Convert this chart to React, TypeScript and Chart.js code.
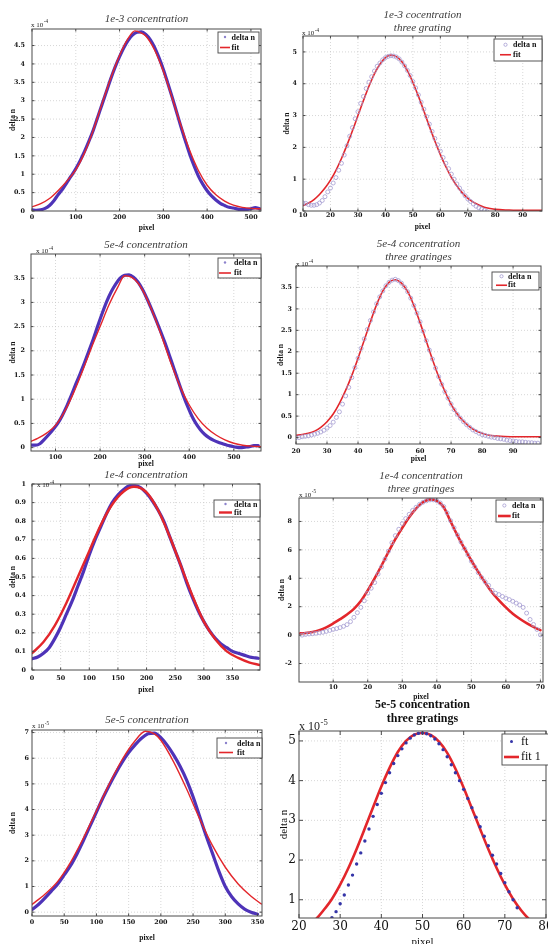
import React, { useEffect, useRef } from "react";
import { Chart, registerables } from "chart.js";
Chart.register(...registerables);

const SERIF = "'Liberation Serif', 'Times New Roman', serif";
const DJ = "'DejaVu Serif', serif";

// ---------------- DATA ----------------
// Panel 1: 1e-3 concentration (values x 1e-4)
const P1_XTICKS = [0, 100, 200, 300, 400, 500];
const P1_YTICKS = [0, 0.5, 1, 1.5, 2, 2.5, 3, 3.5, 4, 4.5];
const P1_DELTA_X = [0, 10, 20, 30, 40, 50, 60, 70, 80, 90, 100, 110, 120, 130, 140, 150, 160, 170, 180, 190, 200, 210, 220, 230, 240, 250, 260, 270, 280, 290, 300, 310, 320, 330, 340, 350, 360, 370, 380, 390, 400, 410, 420, 430, 440, 450, 460, 470, 480, 490, 500, 510, 520];
const P1_DELTA = [0.03, 0.02, 0.03, 0.07, 0.15, 0.28, 0.45, 0.6, 0.78, 0.96, 1.15, 1.37, 1.62, 1.9, 2.2, 2.55, 2.9, 3.25, 3.6, 3.92, 4.2, 4.45, 4.65, 4.79, 4.86, 4.87, 4.8, 4.66, 4.45, 4.17, 3.85, 3.48, 3.1, 2.7, 2.3, 1.92, 1.55, 1.23, 0.95, 0.73, 0.55, 0.41, 0.3, 0.21, 0.15, 0.1, 0.08, 0.05, 0.04, 0.04, 0.06, 0.09, 0.06];
const P1_FIT_X = [0, 20, 40, 60, 80, 100, 120, 140, 160, 180, 200, 220, 235, 250, 260, 280, 300, 320, 340, 360, 380, 400, 420, 440, 460, 480, 500, 522];
const P1_FIT = [0.11, 0.2, 0.34, 0.56, 0.82, 1.12, 1.58, 2.2, 2.92, 3.62, 4.23, 4.7, 4.9, 4.84, 4.76, 4.38, 3.8, 3.08, 2.33, 1.65, 1.1, 0.7, 0.44, 0.27, 0.16, 0.1, 0.07, 0.06];

// Panel 2: 1e-3 cocentration, three grating (x 1e-4)
const P2_XTICKS = [10, 20, 30, 40, 50, 60, 70, 80, 90];
const P2_YTICKS = [0, 1, 2, 3, 4, 5];
const P2_DELTA_X = [10, 11, 12, 13, 14, 15, 16, 17, 18, 19, 20, 21, 22, 23, 24, 25, 26, 27, 28, 29, 30, 31, 32, 33, 34, 35, 36, 37, 38, 39, 40, 41, 42, 43, 44, 45, 46, 47, 48, 49, 50, 51, 52, 53, 54, 55, 56, 57, 58, 59, 60, 61, 62, 63, 64, 65, 66, 67, 68, 69, 70, 71, 72, 73, 74, 75, 76, 77];
const P2_DELTA = [0.25, 0.24, 0.2, 0.18, 0.18, 0.2, 0.25, 0.33, 0.45, 0.6, 0.72, 0.88, 1.05, 1.28, 1.5, 1.76, 2.05, 2.35, 2.62, 2.9, 3.12, 3.38, 3.6, 3.85, 4.05, 4.22, 4.4, 4.55, 4.65, 4.75, 4.82, 4.86, 4.88, 4.87, 4.84, 4.78, 4.68, 4.56, 4.42, 4.26, 4.07, 3.87, 3.65, 3.42, 3.2, 2.97, 2.73, 2.5, 2.28, 2.08, 1.88, 1.68, 1.5, 1.33, 1.16, 1.0, 0.85, 0.72, 0.6, 0.48, 0.38, 0.3, 0.22, 0.15, 0.1, 0.06, 0.02, -0.02];
const P2_FIT_X = [10, 12, 14, 16, 18, 20, 22, 24, 26, 28, 30, 32, 34, 36, 38, 40, 42, 44, 46, 48, 50, 52, 54, 56, 58, 60, 62, 64, 66, 68, 70, 72, 74, 76, 78, 80, 85, 90, 97];
const P2_FIT = [0.17, 0.25, 0.36, 0.52, 0.72, 0.97, 1.28, 1.65, 2.07, 2.52, 3.0, 3.47, 3.92, 4.31, 4.61, 4.82, 4.9, 4.85, 4.69, 4.41, 4.04, 3.61, 3.14, 2.66, 2.2, 1.77, 1.39, 1.06, 0.79, 0.57, 0.4, 0.28, 0.19, 0.12, 0.08, 0.05, 0.03, 0.02, 0.02];

// Panel 3: 5e-4 concentration (x 1e-4)
const P3_XTICKS = [100, 200, 300, 400, 500];
const P3_YTICKS = [0, 0.5, 1, 1.5, 2, 2.5, 3, 3.5];
const P3_DELTA_X = [45, 55, 65, 75, 85, 95, 105, 115, 125, 135, 145, 155, 165, 175, 185, 195, 205, 215, 225, 235, 245, 255, 265, 275, 285, 295, 305, 315, 325, 335, 345, 355, 365, 375, 385, 395, 405, 415, 425, 435, 445, 455, 465, 475, 485, 495, 505, 515, 525, 535, 545, 555];
const P3_DELTA = [0.05, 0.05, 0.08, 0.17, 0.27, 0.38, 0.5, 0.66, 0.85, 1.07, 1.3, 1.52, 1.75, 2.0, 2.25, 2.52, 2.78, 3.02, 3.22, 3.38, 3.5, 3.56, 3.57, 3.52, 3.42, 3.27, 3.08, 2.87, 2.65, 2.42, 2.18, 1.92, 1.65, 1.38, 1.12, 0.88, 0.67, 0.5, 0.37, 0.27, 0.2, 0.15, 0.11, 0.08, 0.05, 0.03, 0.01, 0.0, 0.01, 0.02, 0.04, 0.04];
const P3_FIT_X = [45, 60, 80, 100, 120, 140, 160, 180, 200, 220, 240, 255, 270, 285, 300, 320, 340, 360, 380, 400, 420, 440, 460, 480, 500, 520, 540, 560];
const P3_FIT = [0.13, 0.19, 0.3, 0.46, 0.74, 1.12, 1.57, 2.05, 2.5, 2.95, 3.32, 3.55, 3.52, 3.4, 3.17, 2.75, 2.25, 1.72, 1.25, 0.88, 0.6, 0.4, 0.26, 0.16, 0.09, 0.05, 0.03, 0.02];

// Panel 4: 5e-4 concentration, three gratinges (x 1e-4)
const P4_XTICKS = [20, 30, 40, 50, 60, 70, 80, 90];
const P4_YTICKS = [0, 0.5, 1, 1.5, 2, 2.5, 3, 3.5];
const P4_DELTA_X = [20, 21, 22, 23, 24, 25, 26, 27, 28, 29, 30, 31, 32, 33, 34, 35, 36, 37, 38, 39, 40, 41, 42, 43, 44, 45, 46, 47, 48, 49, 50, 51, 52, 53, 54, 55, 56, 57, 58, 59, 60, 61, 62, 63, 64, 65, 66, 67, 68, 69, 70, 71, 72, 73, 74, 75, 76, 77, 78, 79, 80, 81, 82, 83, 84, 85, 86, 87, 88, 89, 90, 91, 92, 93, 94, 95, 96, 97, 98];
const P4_DELTA = [0.0, 0.0, 0.02, 0.03, 0.04, 0.06, 0.08, 0.1, 0.13, 0.17, 0.22, 0.28, 0.36, 0.47, 0.6, 0.78, 0.97, 1.17, 1.4, 1.63, 1.85, 2.08, 2.3, 2.52, 2.73, 2.93, 3.12, 3.28, 3.42, 3.54, 3.62, 3.67, 3.69, 3.66, 3.6, 3.51, 3.4, 3.25, 3.08, 2.9, 2.7, 2.48, 2.26, 2.04, 1.83, 1.62, 1.42, 1.24, 1.07, 0.92, 0.78, 0.65, 0.54, 0.45, 0.37, 0.3, 0.24, 0.18, 0.14, 0.1, 0.07, 0.05, 0.03, 0.01, 0.0, -0.02, -0.03, -0.04, -0.06, -0.07, -0.08, -0.09, -0.1, -0.1, -0.11, -0.12, -0.12, -0.13, -0.13];
const P4_FIT_X = [20, 22, 24, 26, 28, 30, 32, 34, 36, 38, 40, 42, 44, 46, 48, 50, 52, 54, 56, 58, 60, 62, 64, 66, 68, 70, 72, 74, 76, 78, 80, 82, 84, 86, 90, 95, 99];
const P4_FIT = [0.05, 0.07, 0.1, 0.15, 0.24, 0.37, 0.55, 0.8, 1.1, 1.45, 1.85, 2.27, 2.7, 3.1, 3.42, 3.62, 3.68, 3.6, 3.4, 3.08, 2.68, 2.25, 1.82, 1.42, 1.08, 0.78, 0.55, 0.38, 0.25, 0.16, 0.1, 0.06, 0.04, 0.03, 0.02, 0.02, 0.02];

// Panel 5: 1e-4 concentration (x 1e-4)
const P5_XTICKS = [0, 50, 100, 150, 200, 250, 300, 350];
const P5_YTICKS = [0, 0.1, 0.2, 0.3, 0.4, 0.5, 0.6, 0.7, 0.8, 0.9, 1];
const P5_DELTA_X = [0, 10, 20, 30, 40, 50, 60, 70, 80, 90, 100, 110, 120, 130, 140, 150, 160, 170, 180, 190, 200, 210, 220, 230, 240, 250, 260, 270, 280, 290, 300, 310, 320, 330, 340, 350, 360, 370, 380, 390, 395];
const P5_DELTA = [0.06, 0.07, 0.09, 0.12, 0.17, 0.23, 0.3, 0.37, 0.45, 0.53, 0.62, 0.7, 0.77, 0.84, 0.9, 0.94, 0.97, 0.99, 0.99, 0.98, 0.95, 0.91, 0.86, 0.8, 0.72, 0.64, 0.56, 0.47, 0.39, 0.32, 0.26, 0.21, 0.17, 0.14, 0.12, 0.1, 0.09, 0.08, 0.07, 0.065, 0.063];
const P5_FIT_X = [0, 20, 40, 60, 80, 100, 120, 140, 160, 178, 200, 220, 240, 260, 280, 300, 320, 340, 360, 380, 398];
const P5_FIT = [0.09, 0.15, 0.24, 0.36, 0.5, 0.64, 0.78, 0.89, 0.96, 0.985, 0.955, 0.86, 0.72, 0.56, 0.4, 0.26, 0.165, 0.1, 0.065, 0.04, 0.027];

// Panel 6: 1e-4 concentration, three gratinges (x 1e-5)
const P6_XTICKS = [10, 20, 30, 40, 50, 60, 70];
const P6_YTICKS = [-2, 0, 2, 4, 6, 8];
const P6_DELTA_X = [1, 2, 3, 4, 5, 6, 7, 8, 9, 10, 11, 12, 13, 14, 15, 16, 17, 18, 19, 20, 21, 22, 23, 24, 25, 26, 27, 28, 29, 30, 31, 32, 33, 34, 35, 36, 37, 38, 39, 40, 41, 42, 43, 44, 45, 46, 47, 48, 49, 50, 51, 52, 53, 54, 55, 56, 57, 58, 59, 60, 61, 62, 63, 64, 65, 66, 67, 68, 69, 70];
const P6_DELTA = [0.0, 0.05, 0.08, 0.1, 0.13, 0.17, 0.2, 0.26, 0.33, 0.4, 0.46, 0.53, 0.62, 0.74, 0.95, 1.25, 1.58, 1.95, 2.42, 2.95, 3.3, 3.7, 4.3, 4.8, 5.35, 5.9, 6.5, 7.0, 7.45, 7.85, 8.2, 8.5, 8.78, 9.0, 9.2, 9.35, 9.45, 9.52, 9.52, 9.45, 9.3, 9.05, 8.6, 8.05, 7.55, 7.05, 6.55, 6.1, 5.65, 5.2, 4.8, 4.4, 4.05, 3.75, 3.5, 3.15, 2.95, 2.85, 2.72, 2.6, 2.5, 2.38, 2.25, 2.12, 1.95, 1.55, 1.1, 0.75, 0.4, 0.02];
const P6_FIT_X = [0.5, 2, 4, 6, 8, 10, 12, 14, 16, 18, 20, 22, 24, 26, 28, 30, 32, 34, 36, 38, 40, 42, 44, 46, 48, 50, 52, 54, 56, 58, 60, 62, 64, 66, 68, 70];
const P6_FIT = [0.12, 0.15, 0.22, 0.35, 0.55, 0.82, 1.12, 1.45, 1.85, 2.4, 3.15, 4.0, 4.9, 5.85, 6.75, 7.55, 8.3, 8.9, 9.35, 9.55, 9.45, 9.0, 8.0, 7.0, 6.1, 5.25, 4.45, 3.7, 3.0, 2.45, 1.95, 1.5, 1.15, 0.85, 0.58, 0.35];

// Panel 7: 5e-5 concentration (x 1e-5)
const P7_XTICKS = [0, 50, 100, 150, 200, 250, 300, 350];
const P7_YTICKS = [0, 1, 2, 3, 4, 5, 6, 7];
const P7_DELTA_X = [0, 10, 20, 30, 40, 50, 60, 70, 80, 90, 100, 110, 120, 130, 140, 150, 160, 170, 180, 190, 200, 210, 220, 230, 240, 250, 260, 270, 280, 290, 300, 310, 320, 330, 340, 350];
const P7_DELTA = [0.1, 0.3, 0.55, 0.82, 1.1, 1.45, 1.82, 2.28, 2.8, 3.35, 3.9, 4.45, 4.95, 5.42, 5.85, 6.22, 6.52, 6.78, 6.95, 6.98, 6.8, 6.5, 6.12, 5.68, 5.15, 4.5, 3.75, 3.0, 2.3, 1.6, 1.0, 0.6, 0.32, 0.12, 0.0, -0.08];
const P7_FIT_X = [0, 20, 40, 60, 80, 100, 120, 140, 160, 176, 190, 200, 220, 240, 260, 280, 300, 320, 340, 356];
const P7_FIT = [0.3, 0.7, 1.2, 1.95, 2.9, 3.95, 5.0, 5.95, 6.68, 7.05, 6.95, 6.7, 5.85, 4.8, 3.65, 2.6, 1.75, 1.1, 0.62, 0.32];

// Panel 8: 5e-5 concentration, three gratings (x 1e-5)
const P8_XTICKS = [20, 30, 40, 50, 60, 70, 80];
const P8_YTICKS = [1, 2, 3, 4, 5];
const P8_DELTA_X = [28, 29, 30, 31, 32, 33, 34, 35, 36, 37, 38, 39, 40, 41, 42, 43, 44, 45, 46, 47, 48, 49, 50, 51, 52, 53, 54, 55, 56, 57, 58, 59, 60, 61, 62, 63, 64, 65, 66, 67, 68, 69, 70, 71, 72, 73];
const P8_DELTA = [0.55, 0.7, 0.9, 1.12, 1.37, 1.62, 1.9, 2.18, 2.48, 2.78, 3.1, 3.4, 3.68, 3.95, 4.2, 4.43, 4.63, 4.8, 4.95, 5.07, 5.15, 5.19, 5.2, 5.18, 5.13, 5.05, 4.93, 4.78, 4.6, 4.4, 4.2, 4.0, 3.78, 3.55, 3.32, 3.08, 2.84, 2.6, 2.36, 2.12, 1.9, 1.66, 1.43, 1.2, 1.0, 0.8];
const P8_FIT_X = [22, 24, 26, 28, 30, 32, 34, 36, 38, 40, 42, 44, 46, 48, 50, 52, 54, 56, 58, 60, 62, 64, 66, 68, 70, 72, 74, 76, 78];
const P8_FIT = [0.35, 0.5, 0.74, 1.02, 1.38, 1.8, 2.28, 2.8, 3.33, 3.85, 4.32, 4.72, 5.0, 5.16, 5.2, 5.15, 4.98, 4.7, 4.3, 3.82, 3.3, 2.78, 2.27, 1.8, 1.38, 1.02, 0.73, 0.5, 0.34];

// ---------------- STYLE ----------------
const RED = "#e3262b";
const BAND = "#4e33b8";
const CIRC = "#a59cd2";
const DOT = "#3535a8";

type FontSpec = { family: string; size: number; style?: string; weight?: string };
const TITLE_S: FontSpec = { family: SERIF, size: 11, style: "italic", weight: "normal" };
const TITLE_L: FontSpec = { family: SERIF, size: 12, style: "normal", weight: "bold" };
const TICK_S: FontSpec = { family: DJ, size: 6.4, weight: "bold" };
const TICK_L: FontSpec = { family: DJ, size: 12, weight: "normal" };
const LABEL_S: FontSpec = { family: SERIF, size: 7.5, weight: "bold" };
const LABEL_L: FontSpec = { family: SERIF, size: 11, weight: "normal" };
const LEG_S: FontSpec = { family: SERIF, size: 8, weight: "bold" };
const LEG_L: FontSpec = { family: SERIF, size: 12, weight: "normal" };

type Series = { label: string; xs: number[]; ys: number[]; kind: string; color: string; width?: number; radius?: number; order: number };

const band = (xs: number[], ys: number[]): Series => ({ label: "delta n", xs, ys, kind: "band", color: BAND, width: 3.2, order: 1 });
const circ = (xs: number[], ys: number[]): Series => ({ label: "delta n", xs, ys, kind: "circle", color: CIRC, radius: 2, order: 0 });
const fit = (xs: number[], ys: number[], width: number, order: number, label = "fit"): Series => ({ label, xs, ys, kind: "fit", color: RED, width, order });

const PANELS: any[] = [
  {
    plot: [32, 29, 261, 211], x: [0, 523], y: [0, 4.95], xTicks: P1_XTICKS, yTicks: P1_YTICKS,
    title: ["1e-3 concentration"], titleFont: TITLE_S, titleY: 19,
    xTickY: 217, xLabelY: 228, yLabelX: 13, yTickX: 25, tickFont: TICK_S, labelFont: LABEL_S,
    exp: { power: "-4", size: 7, dx: -1, dy: 2.5 },
    legend: { w: 41, rightGap: 2, topGap: 3, padL: 2, markW: 10, gap: 1.5, rowH: 10, padV: 0.5, font: LEG_S },
    series: [band(P1_DELTA_X, P1_DELTA), fit(P1_FIT_X, P1_FIT, 1.4, 0)],
  },
  {
    plot: [303, 36, 542, 211], x: [10, 97], y: [0, 5.5], xTicks: P2_XTICKS, yTicks: P2_YTICKS,
    title: ["1e-3 cocentration", "three grating"], titleFont: TITLE_S, titleY: 15,
    xTickY: 215.7, xLabelY: 226.7, yLabelX: 287, yTickX: 297, tickFont: TICK_S, labelFont: LABEL_S,
    exp: { power: "-4", size: 7, dx: -1, dy: 1 },
    legend: { w: 48, rightGap: 0, topGap: 3, padL: 6, markW: 11, gap: 2, rowH: 9.5, padV: 1.5, font: LEG_S },
    series: [circ(P2_DELTA_X, P2_DELTA), fit(P2_FIT_X, P2_FIT, 1.6, 1)],
  },
  {
    plot: [31, 254, 261, 451], x: [45, 561], y: [-0.07, 4], xTicks: P3_XTICKS, yTicks: P3_YTICKS,
    title: ["5e-4 concentration"], titleFont: TITLE_S, titleY: 245,
    xTickY: 457.7, xLabelY: 464.3, yLabelX: 13, yTickX: 25, tickFont: TICK_S, labelFont: LABEL_S,
    exp: { power: "-4", size: 7, dx: 5, dy: 1 },
    legend: { w: 43, rightGap: 0, topGap: 4, padL: 1, markW: 12, gap: 3, rowH: 10, padV: 0, font: LEG_S },
    series: [band(P3_DELTA_X, P3_DELTA), fit(P3_FIT_X, P3_FIT, 1.4, 0)],
  },
  {
    plot: [296, 266, 541, 444], x: [20, 99], y: [-0.15, 4], xTicks: P4_XTICKS, yTicks: P4_YTICKS,
    title: ["5e-4 concentration", "three gratinges"], titleFont: TITLE_S, titleY: 244,
    xTickY: 451, xLabelY: 459.3, yLabelX: 281, yTickX: 292, tickFont: TICK_S, labelFont: LABEL_S,
    exp: { power: "-4", size: 7, dx: 0, dy: 0 },
    legend: { w: 47, rightGap: 2, topGap: 6, padL: 4, markW: 11, gap: 1, rowH: 8.5, padV: 0.5, font: LEG_S },
    series: [circ(P4_DELTA_X, P4_DELTA), fit(P4_FIT_X, P4_FIT, 1.6, 1)],
  },
  {
    plot: [32, 484, 260, 670], x: [0, 398], y: [0, 1], xTicks: P5_XTICKS, yTicks: P5_YTICKS,
    title: ["1e-4 concentration"], titleFont: TITLE_S, titleY: 475,
    xTickY: 678, xLabelY: 690, yLabelX: 13, yTickX: 26, tickFont: TICK_S, labelFont: LABEL_S,
    exp: { power: "-4", size: 7, dx: 5, dy: -3 },
    legend: { w: 46, rightGap: 0, topGap: 16, padL: 5, markW: 13, gap: 2, rowH: 8, padV: 0.5, font: LEG_S },
    series: [band(P5_DELTA_X, P5_DELTA), fit(P5_FIT_X, P5_FIT, 2.4, 0)],
  },
  {
    plot: [299, 498, 543, 682], x: [0.1, 70.75], y: [-3.3, 9.65], xTicks: P6_XTICKS, yTicks: P6_YTICKS,
    title: ["1e-4 concentration", "three gratinges"], titleFont: TITLE_S, titleY: 476,
    xTickY: 687.3, xLabelY: 697.3, yLabelX: 282, yTickX: 292, tickFont: TICK_S, labelFont: LABEL_S,
    exp: { power: "-5", size: 7, dx: 0, dy: 1.5 },
    legend: { w: 47, rightGap: 0, topGap: 2, padL: 2, markW: 12.7, gap: 1.3, rowH: 10, padV: 1, font: LEG_S },
    series: [circ(P6_DELTA_X, P6_DELTA), fit(P6_FIT_X, P6_FIT, 2.6, 1)],
  },
  {
    plot: [32, 730, 262, 916], x: [0, 357], y: [-0.15, 7.1], xTicks: P7_XTICKS, yTicks: P7_YTICKS,
    title: ["5e-5 concentration"], titleFont: TITLE_S, titleY: 720,
    xTickY: 922, xLabelY: 938, yLabelX: 13, yTickX: 29, tickFont: TICK_S, labelFont: LABEL_S,
    exp: { power: "-5", size: 7, dx: 0, dy: 2 },
    legend: { w: 45, rightGap: 0, topGap: 8, padL: 2, markW: 14, gap: 4, rowH: 9, padV: 1, font: LEG_S },
    series: [band(P7_DELTA_X, P7_DELTA), fit(P7_FIT_X, P7_FIT, 1.4, 0)],
  },
  {
    plot: [299, 731, 546, 918], x: [20, 80], y: [0.54, 5.25], xTicks: P8_XTICKS, yTicks: P8_YTICKS,
    title: ["5e-5 concentration", "three gratings"], titleFont: TITLE_L, titleY: 705, titleColor: "#111",
    xTickY: 927, xLabelY: 942, yLabelX: 284, yTickX: 296, tickFont: TICK_L, labelFont: LABEL_L,
    exp: { power: "-5", size: 12, dx: 0, dy: 1 },
    legend: { w: 48, rightGap: -4, topGap: 3, padL: 2, markW: 15, gap: 2, rowH: 15, padV: 0.5, font: LEG_L },
    series: [
      { label: "ft", xs: P8_DELTA_X, ys: P8_DELTA, kind: "dot", color: DOT, radius: 1.7, order: 0 },
      fit(P8_FIT_X, P8_FIT, 2.6, 1, "fit 1"),
    ],
  },
];

function fontStr(f: FontSpec) {
  return `${f.style || "normal"} ${f.weight || "normal"} ${f.size}px ${f.family}`;
}

function geom(c: any) {
  const [l, t, r, b] = c.plot;
  const LHt = c.titleFont.size * 1.2;
  const LHl = c.labelFont.size * 1.2;
  const topRaw = c.titleY - LHt / 2;
  const cy = Math.floor(topRaw);
  const titlePadTop = topRaw - cy;
  const titlePadBottom = Math.max(0, t - topRaw - c.title.length * LHt);
  const leftRaw = c.yLabelX - LHl / 2 - 1;
  const cx = Math.floor(leftRaw);
  const yAxisW = l - cx;
  const yTitlePad = c.yLabelX - LHl / 2 - cx;
  const cw = Math.ceil(r + 14) - cx;
  const rightPad = cx + cw - r;
  const ch = Math.ceil(c.xLabelY + LHl / 2 + 1) - cy;
  const xAxisH = cy + ch - b;
  const xTitlePadBottom = cy + ch - (c.xLabelY + LHl / 2);
  const xTickPad = Math.max(0, c.xTickY - b - c.tickFont.size * 0.6);
  const yTickPad = l - c.yTickX;
  return { cx, cy, cw, ch, titlePadTop, titlePadBottom, yAxisW, yTitlePad, rightPad, xAxisH, xTitlePadBottom, xTickPad, yTickPad };
}

function buildChart(canvas: HTMLCanvasElement, c: any, g: any) {
  const datasets = c.series.map((s: Series) => {
    const data = s.xs.map((x, k) => ({ x, y: s.ys[k] }));
    const base: any = { label: s.label, data, order: s.order };
    if (s.kind === "band" || s.kind === "fit") {
      return {
        ...base, showLine: true, borderColor: s.color, backgroundColor: s.color, borderWidth: s.width,
        pointRadius: 0, cubicInterpolationMode: "monotone", fill: false, borderCapStyle: "round", borderJoinStyle: "round",
      };
    }
    if (s.kind === "circle") {
      return { ...base, showLine: false, pointRadius: s.radius, pointBorderColor: s.color, pointBackgroundColor: "rgba(255,255,255,0)", pointBorderWidth: 0.8 };
    }
    return { ...base, showLine: false, pointRadius: s.radius, pointBorderWidth: 0, pointBackgroundColor: s.color, pointBorderColor: s.color };
  });

  const framePlugin = {
    id: "frame",
    beforeDatasetsDraw(chart: any) {
      const { ctx, chartArea: a, scales } = chart;
      const xs = scales.x, ys = scales.y;
      ctx.save();
      ctx.strokeStyle = "#c6c6c6";
      ctx.lineWidth = 0.7;
      ctx.setLineDash([1, 2]);
      xs.ticks.forEach((tk: any) => {
        const p = xs.getPixelForValue(tk.value);
        if (p > a.left + 1 && p < a.right - 1) {
          ctx.beginPath(); ctx.moveTo(p, a.top); ctx.lineTo(p, a.bottom); ctx.stroke();
        }
      });
      ys.ticks.forEach((tk: any) => {
        const p = ys.getPixelForValue(tk.value);
        if (p > a.top + 1 && p < a.bottom - 1) {
          ctx.beginPath(); ctx.moveTo(a.left, p); ctx.lineTo(a.right, p); ctx.stroke();
        }
      });
      ctx.setLineDash([]);
      ctx.restore();
    },
    afterDatasetsDraw(chart: any) {
      const { ctx, chartArea: a, scales } = chart;
      const xs = scales.x, ys = scales.y;
      ctx.save();
      ctx.strokeStyle = "#4a4a4a";
      ctx.lineWidth = 1;
      ctx.strokeRect(a.left, a.top, a.right - a.left, a.bottom - a.top);
      const tl = c.tickFont.size > 10 ? 4 : 2.5;
      xs.ticks.forEach((tk: any) => {
        const p = xs.getPixelForValue(tk.value);
        ctx.beginPath(); ctx.moveTo(p, a.bottom); ctx.lineTo(p, a.bottom - tl);
        ctx.moveTo(p, a.top); ctx.lineTo(p, a.top + tl); ctx.stroke();
      });
      ys.ticks.forEach((tk: any) => {
        const p = ys.getPixelForValue(tk.value);
        ctx.beginPath(); ctx.moveTo(a.left, p); ctx.lineTo(a.left + tl, p);
        ctx.moveTo(a.right, p); ctx.lineTo(a.right - tl, p); ctx.stroke();
      });
      ctx.restore();
    },
  };

  const annotPlugin = {
    id: "annot",
    afterDraw(chart: any) {
      const { ctx, chartArea: a } = chart;
      ctx.save();
      const e = c.exp;
      ctx.fillStyle = "#222";
      ctx.textAlign = "left";
      ctx.textBaseline = "alphabetic";
      ctx.font = `normal normal ${e.size}px ${SERIF}`;
      const x0 = a.left + e.dx, y0 = a.top - e.dy;
      ctx.fillText("x 10", x0, y0);
      const w0 = ctx.measureText("x 10").width;
      ctx.font = `normal normal ${e.size * 0.72}px ${SERIF}`;
      ctx.fillText(e.power, x0 + w0 + 0.6, y0 - e.size * 0.45);

      const L = c.legend;
      const ds = chart.data.datasets;
      const rows = c.series.map((s: Series, i: number) => ({ s, label: ds[i].label }));
      const bw = L.w;
      const bh = L.padV * 2 + rows.length * L.rowH;
      const bx = a.right - L.rightGap - bw;
      const by = a.top + L.topGap;
      ctx.fillStyle = "#ffffff";
      ctx.fillRect(bx, by, bw, bh);
      ctx.strokeStyle = "#444";
      ctx.lineWidth = 0.9;
      ctx.strokeRect(bx, by, bw, bh);
      ctx.font = fontStr(L.font);
      ctx.textBaseline = "middle";
      rows.forEach((row: any, i: number) => {
        const yc = by + L.padV + L.rowH * (i + 0.5);
        const mx0 = bx + L.padL, mx1 = mx0 + L.markW, mc = (mx0 + mx1) / 2;
        const s = row.s;
        if (s.kind === "fit") {
          ctx.strokeStyle = s.color; ctx.lineWidth = Math.max(1.6, s.width);
          ctx.beginPath(); ctx.moveTo(mx0, yc); ctx.lineTo(mx1, yc); ctx.stroke();
        } else if (s.kind === "band") {
          ctx.fillStyle = "#8c82cc";
          ctx.beginPath(); ctx.arc(mc, yc - 0.5, 1.2, 0, Math.PI * 2); ctx.fill();
        } else if (s.kind === "circle") {
          ctx.strokeStyle = s.color; ctx.lineWidth = 0.8;
          ctx.beginPath(); ctx.arc(mc, yc - 0.5, 1.6, 0, Math.PI * 2); ctx.stroke();
        } else {
          ctx.fillStyle = s.color;
          ctx.beginPath(); ctx.arc(mc, yc - 0.5, 1.5, 0, Math.PI * 2); ctx.fill();
        }
        ctx.fillStyle = "#111";
        ctx.fillText(row.label, mx1 + L.gap, yc);
      });
      ctx.restore();
    },
  };

  const tickFont = { family: c.tickFont.family, size: c.tickFont.size, weight: c.tickFont.weight, lineHeight: 1.2 };
  const labelFont = { family: c.labelFont.family, size: c.labelFont.size, weight: c.labelFont.weight, lineHeight: 1.2 };

  return new Chart(canvas, {
    type: "scatter",
    data: { datasets },
    options: {
      animation: false,
      responsive: false,
      devicePixelRatio: 1,
      events: [],
      layout: { padding: { left: 0, top: 0, right: g.rightPad, bottom: 0 } },
      plugins: {
        legend: { display: false },
        tooltip: { enabled: false },
        title: {
          display: true,
          text: c.title,
          fullSize: false,
          color: c.titleColor || "#3a3a3a",
          font: { family: c.titleFont.family, size: c.titleFont.size, style: c.titleFont.style, weight: c.titleFont.weight, lineHeight: 1.2 },
          padding: { top: g.titlePadTop, bottom: g.titlePadBottom },
        },
      },
      scales: {
        x: {
          type: "linear",
          min: c.x[0],
          max: c.x[1],
          bounds: "data",
          afterBuildTicks: (s: any) => { s.ticks = c.xTicks.map((v: number) => ({ value: v })); },
          afterFit: (s: any) => { s.height = g.xAxisH; },
          grid: { display: false, drawTicks: false },
          border: { display: false },
          ticks: { autoSkip: false, maxRotation: 0, minRotation: 0, padding: g.xTickPad, font: tickFont, color: "#111", callback: (v: any) => String(v) },
          title: { display: true, text: "pixel", color: "#111", font: labelFont, padding: { top: 0, bottom: g.xTitlePadBottom } },
        },
        y: {
          type: "linear",
          min: c.y[0],
          max: c.y[1],
          bounds: "data",
          afterBuildTicks: (s: any) => { s.ticks = c.yTicks.map((v: number) => ({ value: v })); },
          afterFit: (s: any) => { s.width = g.yAxisW; },
          grid: { display: false, drawTicks: false },
          border: { display: false },
          ticks: { autoSkip: false, padding: g.yTickPad, font: tickFont, color: "#111", callback: (v: any) => String(v) },
          title: { display: true, text: "delta n", color: "#111", font: labelFont, padding: { top: g.yTitlePad, bottom: 0 } },
        },
      },
    } as any,
    plugins: [framePlugin, annotPlugin],
  } as any);
}

function Panel({ cfg }: { cfg: any }) {
  const ref = useRef<HTMLCanvasElement>(null);
  const g = geom(cfg);
  useEffect(() => {
    const chart = buildChart(ref.current as HTMLCanvasElement, cfg, g);
    return () => chart.destroy();
  }, []);
  return (
    <canvas
      ref={ref}
      width={g.cw}
      height={g.ch}
      style={{ position: "absolute", left: g.cx, top: g.cy, width: g.cw, height: g.ch }}
    />
  );
}

export default function App() {
  return (
    <div style={{ position: "absolute", left: 0, top: 0, width: 548, height: 944, overflow: "hidden", background: "#ffffff" }}>
      {PANELS.map((p, i) => (
        <Panel key={i} cfg={p} />
      ))}
    </div>
  );
}
